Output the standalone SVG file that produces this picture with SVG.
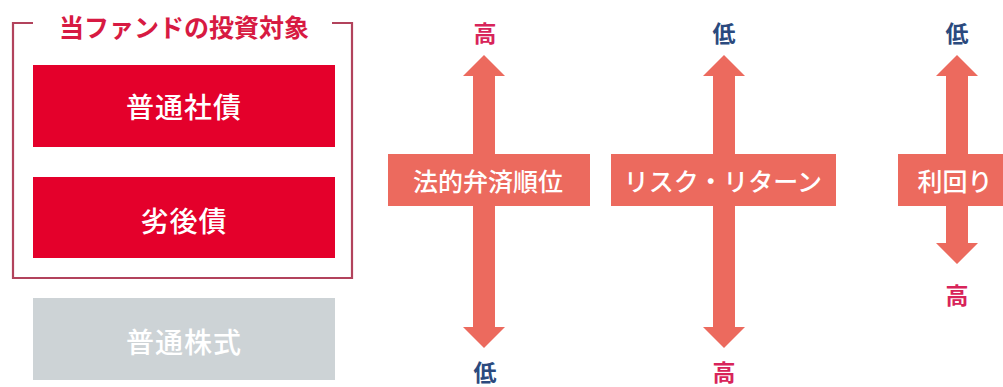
<svg xmlns="http://www.w3.org/2000/svg" width="1003" height="387" viewBox="0 0 1003 387">
<style>
text{font-family:"Noto Sans CJK JP","Noto Sans CJK SC",sans-serif;text-anchor:middle;dominant-baseline:central}
.red{fill:#e4002b}
.gray{fill:#cdd3d6}
.wt{fill:#ffffff;font-size:28px;font-weight:500;letter-spacing:1px}
.arr{fill:#ec6a5e}
.lbl{fill:#ffffff;font-size:25px;font-weight:500}
.hi{fill:#d8245a;font-size:23px;font-weight:700}
.lo{fill:#2b4a7e;font-size:23px;font-weight:700}
</style>
<rect width="1003" height="387" fill="#ffffff"/>
<g id="fund-bracket">
<path d="M33 23 H13 V278 H352 V23 H332" fill="none" stroke="#b2435c" stroke-width="2.2"/>
<text x="184" y="26" style="fill:#d71a42;font-size:25px;font-weight:700">当ファンドの投資対象</text>
</g>
<g id="node-futsu-shasai">
<rect class="red" x="33" y="65" width="302" height="82"/>
<text class="wt" x="184" y="106">普通社債</text>
</g>
<g id="node-retsugo">
<rect class="red" x="33" y="177" width="302" height="81"/>
<text class="wt" x="184" y="220">劣後債</text>
</g>
<g id="node-kabushiki">
<rect class="gray" x="33" y="298" width="302" height="82"/>
<text class="wt" x="184" y="341">普通株式</text>
</g>
<g id="connectors">
<polygon class="arr" points="484,55 505,76 495,76 495,327 505,327 484,348 463,327 473,327 473,76 463,76"/>
<polygon class="arr" points="724,55 745,76 735,76 735,327 745,327 724,348 703,327 713,327 713,76 703,76"/>
<polygon class="arr" points="957,55 978,76 968,76 968,243 978,243 957,264 936,243 946,243 946,76 936,76"/>
</g>
<g id="axis-hosaisai">
<rect class="arr" x="388" y="154" width="202" height="52"/>
<text class="lbl" x="488" y="180">法的弁済順位</text>
<text class="hi" x="485" y="32">高</text>
<text class="lo" x="485" y="371">低</text>
</g>
<g id="axis-risk">
<rect class="arr" x="611" y="154" width="225" height="52"/>
<text class="lbl" x="723" y="180">リスク・リターン</text>
<text class="lo" x="724" y="32">低</text>
<text class="hi" x="724" y="371">高</text>
</g>
<g id="axis-yield">
<rect class="arr" x="898" y="154" width="105" height="52"/>
<text class="lbl" x="955" y="180">利回り</text>
<text class="lo" x="957" y="32">低</text>
<text class="hi" x="957" y="294">高</text>
</g>
</svg>
